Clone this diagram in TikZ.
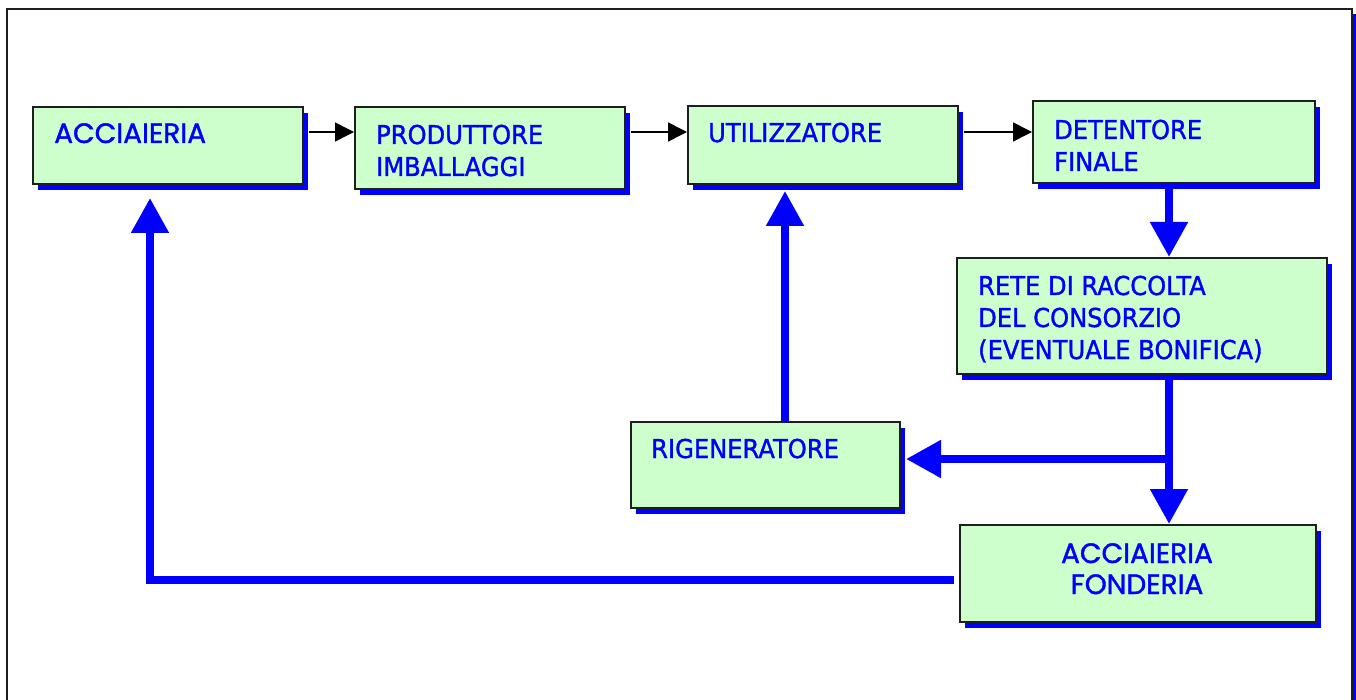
\documentclass[tikz,border=0pt]{standalone}
\usepackage{fontspec}
\setmainfont{DejaVu Sans}[FakeStretch=0.93,FakeBold=1.3]
\newfontfamily\geofont{Poppins}[FakeBold=1.4]
\usetikzlibrary{arrows.meta,shadows,calc}

\definecolor{boxfill}{RGB}{204,255,204}
\definecolor{flowblue}{RGB}{0,0,255}
\definecolor{edge}{RGB}{30,30,30}

\begin{document}
\begin{tikzpicture}[x=1pt,y=-1pt,
  box/.style={draw=edge, line width=2pt, fill=boxfill, anchor=north west, inner sep=0pt,
    general shadow={fill=flowblue, shadow xshift=5pt, shadow yshift=-6pt}},
  lbl/.style={text=flowblue, font=\fontsize{26}{32}\selectfont, align=left,
    anchor=base west, inner sep=0pt},
  geolbl/.style={text=flowblue, font=\geofont\fontsize{28}{31}\selectfont, align=center,
    anchor=base, inner sep=0pt},
  thin flow/.style={draw=black, line width=1.6pt, -{Triangle[length=19pt,width=19pt]}},
  thick flow/.style={draw=flowblue, line width=8pt, -{Triangle[length=35pt,width=36pt]}}]

  % page and outer frame with its shadow
  \useasboundingbox (0,0) rectangle (1356,700);
  \clip (0,0) rectangle (1356,700);
  \fill[white] (0,0) rectangle (1356,700);
  \fill[flowblue] (12,14) rectangle (1358,716);
  \draw[edge, line width=2.5pt, fill=white] (7,9) rectangle (1352,710);

  % boxes
  \node[box, minimum width=270, minimum height=77] (acc)  at (32,106)  {};
  \node[box, minimum width=270, minimum height=82] (prod) at (354,106) {};
  \node[box, minimum width=270, minimum height=78] (util) at (687,105) {};
  \node[box, minimum width=282, minimum height=82] (det)  at (1032,100) {};
  \node[box, minimum width=370, minimum height=116] (rete) at (956,257) {};
  \node[box, minimum width=269, minimum height=86] (rig)  at (630,421) {};
  \node[box, minimum width=356, minimum height=97] (fond) at (959,524) {};

  % labels (multi-line labels sit on the baseline of their last line)
  \node[geolbl, anchor=base west] (accT) at (54,143) {ACCIAIERIA};
  \node[lbl] (prodT) at (376,176) {PRODUTTORE\\IMBALLAGGI};
  \node[lbl] (utilT) at (708,142) {UTILIZZATORE};
  \node[lbl] (detT)  at (1054,171) {DETENTORE\\FINALE};
  \node[lbl] (reteT) at (978,359) {RETE DI RACCOLTA\\DEL CONSORZIO\\(EVENTUALE BONIFICA)};
  \node[lbl] (rigT)  at (651,458) {RIGENERATORE};
  \node[geolbl] (fondT) at (1137,594) {ACCIAIERIA\\FONDERIA};

  % routing helpers
  \coordinate (row)    at (0,132);
  \coordinate (colR)   at (1169,0);
  \coordinate (colU)   at (785,0);
  \coordinate (colA)   at (150,0);
  \coordinate (fork)   at (1169,459);
  \coordinate (lowrow) at (0,580);

  % supply chain
  \draw[thin flow] ([xshift=5pt]acc.east |- row)  -- (prod.west |- row);
  \draw[thin flow] ([xshift=5pt]prod.east |- row) -- (util.west |- row);
  \draw[thin flow] ([xshift=5pt]util.east |- row) -- (det.west |- row);

  % recovery loop
  \draw[thick flow] (det.south -| colR) -- (rete.north -| colR);
  \draw[thick flow] (rete.south -| colR) -- (fond.north -| colR);
  \draw[thick flow] (fork) -- ([xshift=5pt]rig.east |- fork);
  \draw[thick flow] (rig.north -| colU) -- ([yshift=-6pt]util.south -| colU);
  \draw[thick flow] ([xshift=-5pt]fond.west |- lowrow) -| ([yshift=-13pt]acc.south -| colA);
\end{tikzpicture}
\end{document}
